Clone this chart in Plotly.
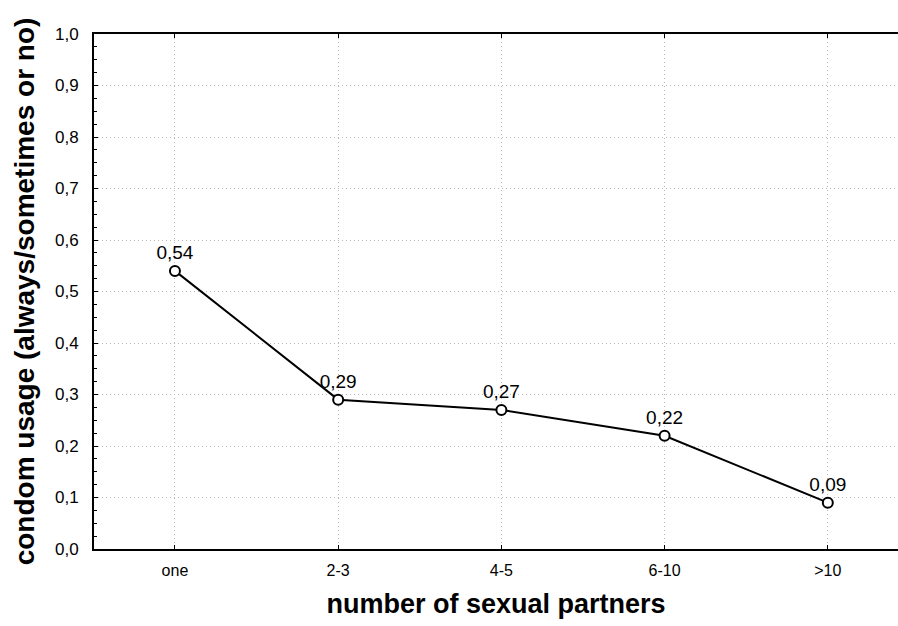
import plotly.graph_objects as go

# Number of sexual partners vs. proportion using condoms
categories = ["one", "2-3", "4-5", "6-10", ">10"]
usage = [0.54, 0.29, 0.27, 0.22, 0.09]
y_ticks = [0.0, 0.1, 0.2, 0.3, 0.4, 0.5, 0.6, 0.7, 0.8, 0.9, 1.0]


def comma(v, nd):
    return f"{v:.{nd}f}".replace(".", ",")


x_pos = list(range(len(categories)))
sans = "Liberation Sans, Arial, sans-serif"
grid_color = "#b8b8b8"
grid_dash = "1px,3px"

fig = go.Figure()
fig.add_trace(go.Scatter(
    x=x_pos,
    y=usage,
    mode="lines+markers+text",
    line=dict(color="black", width=2),
    marker=dict(symbol="circle", size=10, color="white",
                line=dict(color="black", width=2)),
    text=[comma(v, 2) for v in usage],
    textposition="top center",
    textfont=dict(family=sans, size=19, color="black"),
    cliponaxis=False,
    showlegend=False,
))

fig.update_layout(
    width=898,
    height=626,
    margin=dict(l=94, r=0, t=34, b=77),
    paper_bgcolor="white",
    plot_bgcolor="white",
    xaxis=dict(
        range=[-0.496, 4.43],
        tickmode="array",
        tickvals=x_pos,
        ticktext=categories,
        tickfont=dict(family=sans, size=16, color="black"),
        ticklabelstandoff=6,
        showline=True,
        linecolor="black",
        linewidth=2,
        mirror="ticks",
        ticks="inside",
        ticklen=4,
        tickcolor="black",
        showgrid=True,
        gridcolor=grid_color,
        griddash=grid_dash,
        gridwidth=1,
        zeroline=False,
        title=dict(text="<b>number of sexual partners</b>",
                   font=dict(family=sans, size=27, color="black"),
                   standoff=16),
    ),
    yaxis=dict(
        range=[0, 1],
        tickmode="array",
        tickvals=y_ticks,
        ticktext=[comma(v, 1) for v in y_ticks],
        tickfont=dict(family=sans, size=17, color="black"),
        ticklabelstandoff=10,
        showline=True,
        linecolor="black",
        linewidth=2,
        ticks="inside",
        ticklen=4,
        tickcolor="black",
        minor=dict(dtick=0.025, tick0=0, ticks="inside", ticklen=3,
                   tickcolor="black", showgrid=False),
        showgrid=True,
        gridcolor=grid_color,
        griddash=grid_dash,
        gridwidth=1,
        zeroline=False,
        title=dict(text="<b>condom usage (always/sometimes or no)</b>",
                   font=dict(family=sans, size=28, color="black"),
                   standoff=12),
    ),
)

fig.write_html("out.html")
